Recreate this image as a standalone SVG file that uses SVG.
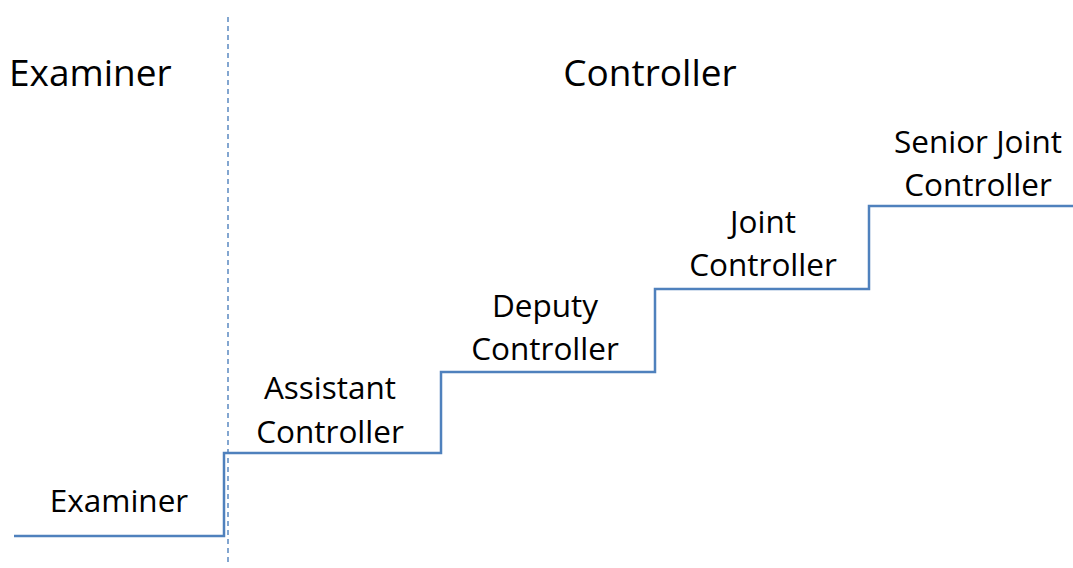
<svg xmlns="http://www.w3.org/2000/svg" width="1073" height="568" viewBox="0 0 1073 568">
<style>
.t{font-family:"Open Sans","Noto Sans",sans-serif;fill:#000;}
.h{font-size:37px;}
.l{font-size:31.5px;text-anchor:middle;}
.step{fill:none;stroke:#4f81bd;stroke-width:2.5;}
.div{fill:none;stroke:#4f81bd;stroke-width:1.4;stroke-dasharray:5,4;}
</style>
<rect width="1073" height="568" fill="#fff"/>
<g id="headers">
<text class="t h" x="9" y="86">Examiner</text>
<text class="t h" x="650" y="86" text-anchor="middle">Controller</text>
</g>
<g id="connectors">
<line class="div" x1="228" y1="17" x2="228" y2="566"/>
<path class="step" d="M14,536 H224 V453 H441 V372 H655 V289 H869 V206 H1073"/>
</g>
<g id="examiner"><text class="t l" x="119" y="512">Examiner</text></g>
<g id="assistant"><text class="t l" x="330" y="399">Assistant</text><text class="t l" x="330" y="443">Controller</text></g>
<g id="deputy"><text class="t l" x="545" y="317">Deputy</text><text class="t l" x="545" y="360">Controller</text></g>
<g id="joint"><text class="t l" x="763" y="233">Joint</text><text class="t l" x="763" y="276">Controller</text></g>
<g id="senior"><text class="t l" x="978" y="153">Senior Joint</text><text class="t l" x="978" y="196">Controller</text></g>
</svg>
